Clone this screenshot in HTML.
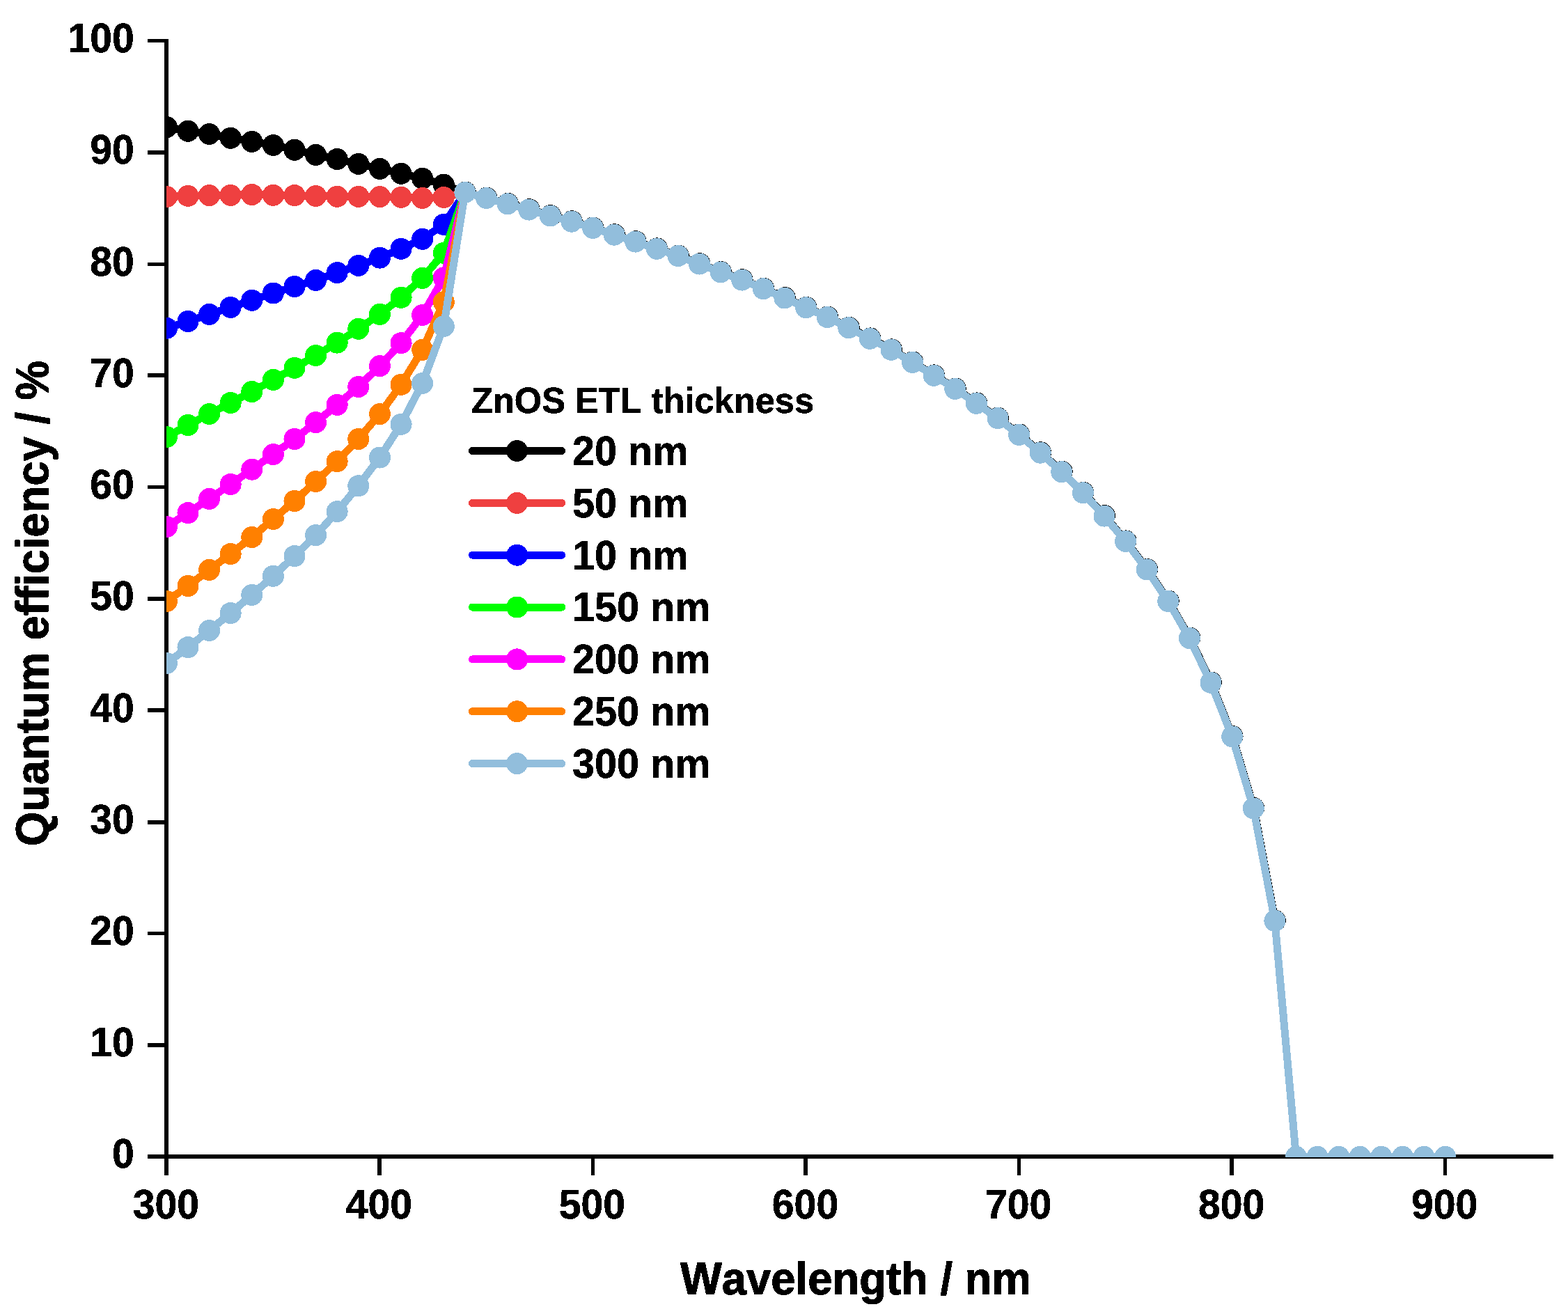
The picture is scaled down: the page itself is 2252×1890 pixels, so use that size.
<!DOCTYPE html>
<html lang="en"><head><meta charset="utf-8"><title>Quantum efficiency vs wavelength</title>
<style>
html,body{margin:0;padding:0;background:#fff;}
body{width:2252px;height:1890px;overflow:hidden;}
svg{display:block;}
text{font-family:"Liberation Sans",Arial,Helvetica,sans-serif;font-weight:bold;fill:#000;font-kerning:none;stroke:#000;stroke-width:0.6px;stroke-linejoin:round;}
</style></head><body>
<svg width="2252" height="1890" viewBox="0 0 2252 1890">
<rect width="2252" height="1890" fill="#fff"/>
<defs><filter id="hard" x="0" y="0" width="2252" height="1890" filterUnits="userSpaceOnUse" color-interpolation-filters="sRGB"><feComponentTransfer><feFuncA type="discrete" tableValues="0 1"/></feComponentTransfer></filter><clipPath id="plot"><rect x="239" y="0" width="2100" height="1662"/></clipPath></defs>
<g fill="#000" shape-rendering="crispEdges">
<rect x="236" y="56" width="6" height="1632"/>
<rect x="212" y="1658" width="2019" height="6"/>
<rect x="212" y="56" width="24" height="5"/>
<rect x="212" y="216" width="24" height="6"/>
<rect x="212" y="377" width="24" height="5"/>
<rect x="212" y="536" width="24" height="6"/>
<rect x="212" y="697" width="24" height="5"/>
<rect x="212" y="857" width="24" height="6"/>
<rect x="212" y="1017" width="24" height="6"/>
<rect x="212" y="1178" width="24" height="6"/>
<rect x="212" y="1338" width="24" height="5"/>
<rect x="212" y="1498" width="24" height="6"/>
<rect x="542" y="1664" width="6" height="24"/>
<rect x="849" y="1664" width="5" height="24"/>
<rect x="1154" y="1664" width="6" height="24"/>
<rect x="1461" y="1664" width="5" height="24"/>
<rect x="1766" y="1664" width="6" height="24"/>
<rect x="2073" y="1664" width="5" height="24"/>
</g>
<g clip-path="url(#plot)" shape-rendering="crispEdges">
<g fill="#000000" stroke="none">
<polyline fill="none" stroke="#000000" stroke-width="11" stroke-linejoin="round" points="239.4,182.7 270.0,188.3 300.6,192.5 331.2,198.3 361.8,203.4 392.4,208.5 423.0,215.3 453.6,222.4 484.2,228.5 514.8,235.4 545.5,242.4 576.1,249.3 606.7,256.3 637.3,265.2 667.9,276.4"/>
<circle cx="239.4" cy="182.7" r="15.5"/>
<circle cx="270.0" cy="188.3" r="15.5"/>
<circle cx="300.6" cy="192.5" r="15.5"/>
<circle cx="331.2" cy="198.3" r="15.5"/>
<circle cx="361.8" cy="203.4" r="15.5"/>
<circle cx="392.4" cy="208.5" r="15.5"/>
<circle cx="423.0" cy="215.3" r="15.5"/>
<circle cx="453.6" cy="222.4" r="15.5"/>
<circle cx="484.2" cy="228.5" r="15.5"/>
<circle cx="514.8" cy="235.4" r="15.5"/>
<circle cx="545.5" cy="242.4" r="15.5"/>
<circle cx="576.1" cy="249.3" r="15.5"/>
<circle cx="606.7" cy="256.3" r="15.5"/>
<circle cx="637.3" cy="265.2" r="15.5"/>
<circle cx="667.9" cy="276.4" r="15.5"/>
</g>
<g fill="#000000" stroke="none">
<polyline fill="none" stroke="#000000" stroke-width="11" stroke-linejoin="round" points="668.3,276.0 698.9,284.1 729.5,292.4 760.1,300.7 790.7,309.6 821.3,317.8 851.9,327.0 882.5,336.8 913.1,346.7 943.7,356.9 974.3,367.1 1004.9,378.7 1035.5,390.5 1066.1,401.7 1096.7,414.3 1127.3,427.6 1158.0,441.4 1188.6,455.1 1219.2,470.3 1249.8,485.9 1280.4,501.9 1311.0,520.0 1341.6,538.9 1372.2,558.0 1402.8,578.9 1433.4,600.2 1464.0,624.0 1494.6,649.8 1525.2,677.3 1555.8,707.4 1586.4,740.7 1617.0,776.9 1647.6,817.5 1678.2,863.1 1708.8,916.2 1739.4,980.0 1770.1,1057.5 1800.7,1160.5 1831.3,1322.1"/>
<circle cx="668.3" cy="276.0" r="15.5"/>
<circle cx="698.9" cy="284.1" r="15.5"/>
<circle cx="729.5" cy="292.4" r="15.5"/>
<circle cx="760.1" cy="300.7" r="15.5"/>
<circle cx="790.7" cy="309.6" r="15.5"/>
<circle cx="821.3" cy="317.8" r="15.5"/>
<circle cx="851.9" cy="327.0" r="15.5"/>
<circle cx="882.5" cy="336.8" r="15.5"/>
<circle cx="913.1" cy="346.7" r="15.5"/>
<circle cx="943.7" cy="356.9" r="15.5"/>
<circle cx="974.3" cy="367.1" r="15.5"/>
<circle cx="1004.9" cy="378.7" r="15.5"/>
<circle cx="1035.5" cy="390.5" r="15.5"/>
<circle cx="1066.1" cy="401.7" r="15.5"/>
<circle cx="1096.7" cy="414.3" r="15.5"/>
<circle cx="1127.3" cy="427.6" r="15.5"/>
<circle cx="1158.0" cy="441.4" r="15.5"/>
<circle cx="1188.6" cy="455.1" r="15.5"/>
<circle cx="1219.2" cy="470.3" r="15.5"/>
<circle cx="1249.8" cy="485.9" r="15.5"/>
<circle cx="1280.4" cy="501.9" r="15.5"/>
<circle cx="1311.0" cy="520.0" r="15.5"/>
<circle cx="1341.6" cy="538.9" r="15.5"/>
<circle cx="1372.2" cy="558.0" r="15.5"/>
<circle cx="1402.8" cy="578.9" r="15.5"/>
<circle cx="1433.4" cy="600.2" r="15.5"/>
<circle cx="1464.0" cy="624.0" r="15.5"/>
<circle cx="1494.6" cy="649.8" r="15.5"/>
<circle cx="1525.2" cy="677.3" r="15.5"/>
<circle cx="1555.8" cy="707.4" r="15.5"/>
<circle cx="1586.4" cy="740.7" r="15.5"/>
<circle cx="1617.0" cy="776.9" r="15.5"/>
<circle cx="1647.6" cy="817.5" r="15.5"/>
<circle cx="1678.2" cy="863.1" r="15.5"/>
<circle cx="1708.8" cy="916.2" r="15.5"/>
<circle cx="1739.4" cy="980.0" r="15.5"/>
<circle cx="1770.1" cy="1057.5" r="15.5"/>
<circle cx="1800.7" cy="1160.5" r="15.5"/>
<circle cx="1831.3" cy="1322.1" r="15.5"/>
</g>
<g fill="#EF4040" stroke="none">
<polyline fill="none" stroke="#EF4040" stroke-width="11" stroke-linejoin="round" points="239.4,282.6 270.0,281.4 300.6,280.6 331.2,280.4 361.8,279.5 392.4,280.3 423.0,280.6 453.6,281.5 484.2,282.3 514.8,282.4 545.5,282.7 576.1,283.3 606.7,284.5 637.3,283.5 667.9,276.4"/>
<circle cx="239.4" cy="282.6" r="15.5"/>
<circle cx="270.0" cy="281.4" r="15.5"/>
<circle cx="300.6" cy="280.6" r="15.5"/>
<circle cx="331.2" cy="280.4" r="15.5"/>
<circle cx="361.8" cy="279.5" r="15.5"/>
<circle cx="392.4" cy="280.3" r="15.5"/>
<circle cx="423.0" cy="280.6" r="15.5"/>
<circle cx="453.6" cy="281.5" r="15.5"/>
<circle cx="484.2" cy="282.3" r="15.5"/>
<circle cx="514.8" cy="282.4" r="15.5"/>
<circle cx="545.5" cy="282.7" r="15.5"/>
<circle cx="576.1" cy="283.3" r="15.5"/>
<circle cx="606.7" cy="284.5" r="15.5"/>
<circle cx="637.3" cy="283.5" r="15.5"/>
<circle cx="667.9" cy="276.4" r="15.5"/>
</g>
<g fill="#0000FF" stroke="none">
<polyline fill="none" stroke="#0000FF" stroke-width="11" stroke-linejoin="round" points="239.4,471.3 270.0,461.5 300.6,451.4 331.2,441.4 361.8,431.3 392.4,421.0 423.0,411.5 453.6,402.4 484.2,391.6 514.8,381.4 545.5,370.2 576.1,357.4 606.7,343.3 637.3,322.4 667.9,276.4"/>
<circle cx="239.4" cy="471.3" r="15.5"/>
<circle cx="270.0" cy="461.5" r="15.5"/>
<circle cx="300.6" cy="451.4" r="15.5"/>
<circle cx="331.2" cy="441.4" r="15.5"/>
<circle cx="361.8" cy="431.3" r="15.5"/>
<circle cx="392.4" cy="421.0" r="15.5"/>
<circle cx="423.0" cy="411.5" r="15.5"/>
<circle cx="453.6" cy="402.4" r="15.5"/>
<circle cx="484.2" cy="391.6" r="15.5"/>
<circle cx="514.8" cy="381.4" r="15.5"/>
<circle cx="545.5" cy="370.2" r="15.5"/>
<circle cx="576.1" cy="357.4" r="15.5"/>
<circle cx="606.7" cy="343.3" r="15.5"/>
<circle cx="637.3" cy="322.4" r="15.5"/>
<circle cx="667.9" cy="276.4" r="15.5"/>
</g>
<g fill="#00FF00" stroke="none">
<polyline fill="none" stroke="#00FF00" stroke-width="11" stroke-linejoin="round" points="239.4,627.5 270.0,610.5 300.6,594.5 331.2,578.5 361.8,562.5 392.4,545.4 423.0,528.4 453.6,510.5 484.2,492.1 514.8,472.3 545.5,451.3 576.1,427.3 606.7,399.4 637.3,363.4 667.9,276.4"/>
<circle cx="239.4" cy="627.5" r="15.5"/>
<circle cx="270.0" cy="610.5" r="15.5"/>
<circle cx="300.6" cy="594.5" r="15.5"/>
<circle cx="331.2" cy="578.5" r="15.5"/>
<circle cx="361.8" cy="562.5" r="15.5"/>
<circle cx="392.4" cy="545.4" r="15.5"/>
<circle cx="423.0" cy="528.4" r="15.5"/>
<circle cx="453.6" cy="510.5" r="15.5"/>
<circle cx="484.2" cy="492.1" r="15.5"/>
<circle cx="514.8" cy="472.3" r="15.5"/>
<circle cx="545.5" cy="451.3" r="15.5"/>
<circle cx="576.1" cy="427.3" r="15.5"/>
<circle cx="606.7" cy="399.4" r="15.5"/>
<circle cx="637.3" cy="363.4" r="15.5"/>
<circle cx="667.9" cy="276.4" r="15.5"/>
</g>
<g fill="#FF00FF" stroke="none">
<polyline fill="none" stroke="#FF00FF" stroke-width="11" stroke-linejoin="round" points="239.4,756.5 270.0,736.6 300.6,716.4 331.2,695.5 361.8,674.2 392.4,652.6 423.0,630.5 453.6,606.6 484.2,581.4 514.8,555.5 545.5,525.7 576.1,492.6 606.7,452.5 637.3,398.9 667.9,276.4"/>
<circle cx="239.4" cy="756.5" r="15.5"/>
<circle cx="270.0" cy="736.6" r="15.5"/>
<circle cx="300.6" cy="716.4" r="15.5"/>
<circle cx="331.2" cy="695.5" r="15.5"/>
<circle cx="361.8" cy="674.2" r="15.5"/>
<circle cx="392.4" cy="652.6" r="15.5"/>
<circle cx="423.0" cy="630.5" r="15.5"/>
<circle cx="453.6" cy="606.6" r="15.5"/>
<circle cx="484.2" cy="581.4" r="15.5"/>
<circle cx="514.8" cy="555.5" r="15.5"/>
<circle cx="545.5" cy="525.7" r="15.5"/>
<circle cx="576.1" cy="492.6" r="15.5"/>
<circle cx="606.7" cy="452.5" r="15.5"/>
<circle cx="637.3" cy="398.9" r="15.5"/>
<circle cx="667.9" cy="276.4" r="15.5"/>
</g>
<g fill="#FF8000" stroke="none">
<polyline fill="none" stroke="#FF8000" stroke-width="11" stroke-linejoin="round" points="239.4,863.5 270.0,841.5 300.6,818.4 331.2,795.5 361.8,771.5 392.4,745.5 423.0,719.5 453.6,691.5 484.2,662.6 514.8,630.5 545.5,594.6 576.1,552.4 606.7,502.4 637.3,433.7 667.9,276.4"/>
<circle cx="239.4" cy="863.5" r="15.5"/>
<circle cx="270.0" cy="841.5" r="15.5"/>
<circle cx="300.6" cy="818.4" r="15.5"/>
<circle cx="331.2" cy="795.5" r="15.5"/>
<circle cx="361.8" cy="771.5" r="15.5"/>
<circle cx="392.4" cy="745.5" r="15.5"/>
<circle cx="423.0" cy="719.5" r="15.5"/>
<circle cx="453.6" cy="691.5" r="15.5"/>
<circle cx="484.2" cy="662.6" r="15.5"/>
<circle cx="514.8" cy="630.5" r="15.5"/>
<circle cx="545.5" cy="594.6" r="15.5"/>
<circle cx="576.1" cy="552.4" r="15.5"/>
<circle cx="606.7" cy="502.4" r="15.5"/>
<circle cx="637.3" cy="433.7" r="15.5"/>
<circle cx="667.9" cy="276.4" r="15.5"/>
</g>
<g fill="#92BEDC" stroke="none">
<polyline fill="none" stroke="#92BEDC" stroke-width="11" stroke-linejoin="round" points="239.4,952.5 270.0,929.6 300.6,905.5 331.2,880.5 361.8,854.4 392.4,827.3 423.0,798.6 453.6,768.6 484.2,734.6 514.8,697.7 545.5,657.0 576.1,609.4 606.7,550.5 637.3,468.6 667.9,276.4 698.5,284.5 729.1,292.8 759.7,301.1 790.3,310.0 820.9,318.2 851.5,327.4 882.1,337.2 912.7,347.1 943.3,357.3 973.9,367.5 1004.5,379.1 1035.1,390.9 1065.7,402.1 1096.3,414.7 1126.9,428.0 1157.6,441.8 1188.2,455.5 1218.8,470.7 1249.4,486.3 1280.0,502.3 1310.6,520.4 1341.2,539.3 1371.8,558.4 1402.4,579.3 1433.0,600.6 1463.6,624.4 1494.2,650.2 1524.8,677.7 1555.4,707.8 1586.0,741.1 1616.6,777.3 1647.2,817.9 1677.8,863.5 1708.4,916.6 1739.0,980.4 1769.7,1057.9 1800.3,1160.9 1830.9,1322.5 1861.5,1661.3 1892.1,1661.3 1922.7,1661.3 1953.3,1661.3 1983.9,1661.3 2014.5,1661.3 2045.1,1661.3 2075.7,1661.3"/>
<circle cx="239.4" cy="952.5" r="15.5"/>
<circle cx="270.0" cy="929.6" r="15.5"/>
<circle cx="300.6" cy="905.5" r="15.5"/>
<circle cx="331.2" cy="880.5" r="15.5"/>
<circle cx="361.8" cy="854.4" r="15.5"/>
<circle cx="392.4" cy="827.3" r="15.5"/>
<circle cx="423.0" cy="798.6" r="15.5"/>
<circle cx="453.6" cy="768.6" r="15.5"/>
<circle cx="484.2" cy="734.6" r="15.5"/>
<circle cx="514.8" cy="697.7" r="15.5"/>
<circle cx="545.5" cy="657.0" r="15.5"/>
<circle cx="576.1" cy="609.4" r="15.5"/>
<circle cx="606.7" cy="550.5" r="15.5"/>
<circle cx="637.3" cy="468.6" r="15.5"/>
<circle cx="667.9" cy="276.4" r="15.5"/>
<circle cx="698.5" cy="284.5" r="15.5"/>
<circle cx="729.1" cy="292.8" r="15.5"/>
<circle cx="759.7" cy="301.1" r="15.5"/>
<circle cx="790.3" cy="310.0" r="15.5"/>
<circle cx="820.9" cy="318.2" r="15.5"/>
<circle cx="851.5" cy="327.4" r="15.5"/>
<circle cx="882.1" cy="337.2" r="15.5"/>
<circle cx="912.7" cy="347.1" r="15.5"/>
<circle cx="943.3" cy="357.3" r="15.5"/>
<circle cx="973.9" cy="367.5" r="15.5"/>
<circle cx="1004.5" cy="379.1" r="15.5"/>
<circle cx="1035.1" cy="390.9" r="15.5"/>
<circle cx="1065.7" cy="402.1" r="15.5"/>
<circle cx="1096.3" cy="414.7" r="15.5"/>
<circle cx="1126.9" cy="428.0" r="15.5"/>
<circle cx="1157.6" cy="441.8" r="15.5"/>
<circle cx="1188.2" cy="455.5" r="15.5"/>
<circle cx="1218.8" cy="470.7" r="15.5"/>
<circle cx="1249.4" cy="486.3" r="15.5"/>
<circle cx="1280.0" cy="502.3" r="15.5"/>
<circle cx="1310.6" cy="520.4" r="15.5"/>
<circle cx="1341.2" cy="539.3" r="15.5"/>
<circle cx="1371.8" cy="558.4" r="15.5"/>
<circle cx="1402.4" cy="579.3" r="15.5"/>
<circle cx="1433.0" cy="600.6" r="15.5"/>
<circle cx="1463.6" cy="624.4" r="15.5"/>
<circle cx="1494.2" cy="650.2" r="15.5"/>
<circle cx="1524.8" cy="677.7" r="15.5"/>
<circle cx="1555.4" cy="707.8" r="15.5"/>
<circle cx="1586.0" cy="741.1" r="15.5"/>
<circle cx="1616.6" cy="777.3" r="15.5"/>
<circle cx="1647.2" cy="817.9" r="15.5"/>
<circle cx="1677.8" cy="863.5" r="15.5"/>
<circle cx="1708.4" cy="916.6" r="15.5"/>
<circle cx="1739.0" cy="980.4" r="15.5"/>
<circle cx="1769.7" cy="1057.9" r="15.5"/>
<circle cx="1800.3" cy="1160.9" r="15.5"/>
<circle cx="1830.9" cy="1322.5" r="15.5"/>
<circle cx="1861.5" cy="1661.3" r="15.5"/>
<circle cx="1892.1" cy="1661.3" r="15.5"/>
<circle cx="1922.7" cy="1661.3" r="15.5"/>
<circle cx="1953.3" cy="1661.3" r="15.5"/>
<circle cx="1983.9" cy="1661.3" r="15.5"/>
<circle cx="2014.5" cy="1661.3" r="15.5"/>
<circle cx="2045.1" cy="1661.3" r="15.5"/>
<circle cx="2075.7" cy="1661.3" r="15.5"/>
</g>
</g>
<g shape-rendering="crispEdges">
<line x1="678.5" y1="647.5" x2="806.7" y2="647.5" stroke="#000000" stroke-width="11" stroke-linecap="round"/>
<ellipse cx="742.6" cy="647.5" rx="15.5" ry="15.5" fill="#000000"/>
<line x1="678.5" y1="722.4" x2="806.7" y2="722.4" stroke="#EF4040" stroke-width="11" stroke-linecap="round"/>
<ellipse cx="742.6" cy="722.4" rx="15.5" ry="15.5" fill="#EF4040"/>
<line x1="678.5" y1="797.2" x2="806.7" y2="797.2" stroke="#0000FF" stroke-width="11" stroke-linecap="round"/>
<ellipse cx="742.6" cy="797.2" rx="15.5" ry="15.5" fill="#0000FF"/>
<line x1="678.5" y1="872.0" x2="806.7" y2="872.0" stroke="#00FF00" stroke-width="11" stroke-linecap="round"/>
<ellipse cx="742.6" cy="872.0" rx="15.5" ry="15.5" fill="#00FF00"/>
<line x1="678.5" y1="946.9" x2="806.7" y2="946.9" stroke="#FF00FF" stroke-width="11" stroke-linecap="round"/>
<ellipse cx="742.6" cy="946.9" rx="15.5" ry="15.5" fill="#FF00FF"/>
<line x1="678.5" y1="1021.8" x2="806.7" y2="1021.8" stroke="#FF8000" stroke-width="11" stroke-linecap="round"/>
<ellipse cx="742.6" cy="1021.8" rx="15.5" ry="15.5" fill="#FF8000"/>
<line x1="678.5" y1="1096.6" x2="806.7" y2="1096.6" stroke="#92BEDC" stroke-width="11" stroke-linecap="round"/>
<ellipse cx="742.6" cy="1096.6" rx="15.5" ry="15.5" fill="#92BEDC"/>
</g>
<g filter="url(#hard)">
<text transform="translate(677.0 593.0) scale(0.9754 1.0)" font-size="51.9" text-anchor="start">ZnOS ETL thickness</text>
<text transform="translate(822 667.8) scale(0.985 1.02)" font-size="58.5" text-anchor="start">20 nm</text>
<text transform="translate(822 742.6) scale(0.985 1.02)" font-size="58.5" text-anchor="start">50 nm</text>
<text transform="translate(822 817.5) scale(0.985 1.02)" font-size="58.5" text-anchor="start">10 nm</text>
<text transform="translate(822 892.3) scale(0.985 1.02)" font-size="58.5" text-anchor="start">150 nm</text>
<text transform="translate(822 967.2) scale(0.985 1.02)" font-size="58.5" text-anchor="start">200 nm</text>
<text transform="translate(822 1042.0) scale(0.985 1.02)" font-size="58.5" text-anchor="start">250 nm</text>
<text transform="translate(822 1116.9) scale(0.985 1.02)" font-size="58.5" text-anchor="start">300 nm</text>
<text transform="translate(192.9 1677.4) scale(0.977 1.022)" font-size="58.5" text-anchor="end">0</text>
<text transform="translate(192.9 1517.2) scale(0.977 1.022)" font-size="58.5" text-anchor="end">10</text>
<text transform="translate(192.9 1357.0) scale(0.977 1.022)" font-size="58.5" text-anchor="end">20</text>
<text transform="translate(192.9 1196.7) scale(0.977 1.022)" font-size="58.5" text-anchor="end">30</text>
<text transform="translate(192.9 1036.5) scale(0.977 1.022)" font-size="58.5" text-anchor="end">40</text>
<text transform="translate(192.9 876.3) scale(0.977 1.022)" font-size="58.5" text-anchor="end">50</text>
<text transform="translate(192.9 716.0) scale(0.977 1.022)" font-size="58.5" text-anchor="end">60</text>
<text transform="translate(192.9 555.8) scale(0.977 1.022)" font-size="58.5" text-anchor="end">70</text>
<text transform="translate(192.9 395.6) scale(0.977 1.022)" font-size="58.5" text-anchor="end">80</text>
<text transform="translate(192.9 235.4) scale(0.977 1.022)" font-size="58.5" text-anchor="end">90</text>
<text transform="translate(192.9 75.2) scale(0.977 1.022)" font-size="58.5" text-anchor="end">100</text>
<text transform="translate(238.3 1749.9) scale(0.977 1.022)" font-size="58.5" text-anchor="middle">300</text>
<text transform="translate(544.4 1749.9) scale(0.977 1.022)" font-size="58.5" text-anchor="middle">400</text>
<text transform="translate(850.4 1749.9) scale(0.977 1.022)" font-size="58.5" text-anchor="middle">500</text>
<text transform="translate(1156.5 1749.9) scale(0.977 1.022)" font-size="58.5" text-anchor="middle">600</text>
<text transform="translate(1462.6 1749.9) scale(0.977 1.022)" font-size="58.5" text-anchor="middle">700</text>
<text transform="translate(1768.7 1749.9) scale(0.977 1.022)" font-size="58.5" text-anchor="middle">800</text>
<text transform="translate(2074.7 1749.9) scale(0.977 1.022)" font-size="58.5" text-anchor="middle">900</text>
<text transform="translate(1228.9 1859.1) scale(0.961 1.0)" font-size="66" text-anchor="middle" style="stroke-width:1.2px">Wavelength / nm</text>
<text transform="translate(69.4 866.6) rotate(-90) scale(0.9605 1.0)" font-size="66" text-anchor="middle" style="stroke-width:1.2px">Quantum efficiency / %</text>
</g>
</svg>
</body></html>
